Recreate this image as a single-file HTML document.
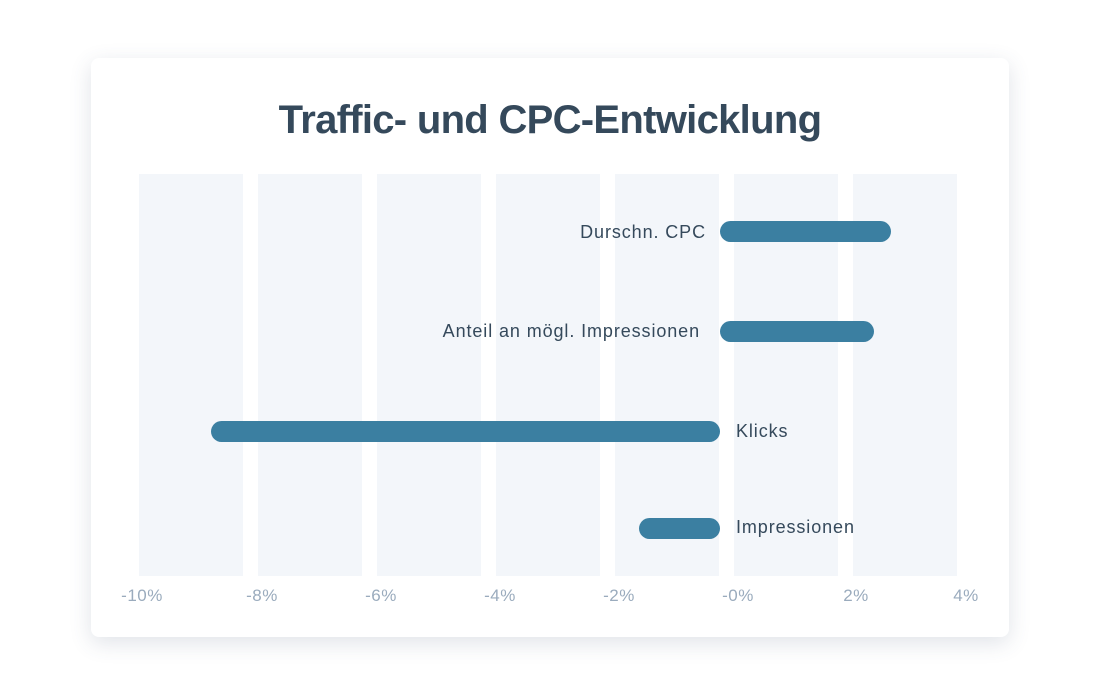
<!DOCTYPE html>
<html><head><meta charset="utf-8"><style>
html,body{margin:0;padding:0;background:#fff;}
body{width:1100px;height:696px;position:relative;overflow:hidden;font-family:"Liberation Sans",sans-serif;}
.card{position:absolute;left:91px;top:58px;width:918px;height:579px;background:#fff;border-radius:8px;box-shadow:0 6px 22px rgba(60,80,110,0.16);}
.title{position:absolute;left:0;width:1100px;top:98px;text-align:center;font-weight:bold;font-size:40px;color:#35495b;letter-spacing:-0.7px;}
.band{position:absolute;top:174px;height:402px;width:104px;background:#f3f6fa;}
.tick{position:absolute;top:586px;font-size:17px;color:#9aabbd;transform:translateX(-50%);letter-spacing:0.5px;}
.bar{position:absolute;height:21px;border-radius:11px;background:#3b7fa1;}
.lab{position:absolute;font-size:18px;color:#35495b;line-height:20px;letter-spacing:0.9px;}
</style></head><body>
<div class="card"></div>
<div class="title">Traffic- und CPC-Entwicklung</div>
<div class="band" style="left:139px"></div>
<div class="band" style="left:258px"></div>
<div class="band" style="left:377px"></div>
<div class="band" style="left:496px"></div>
<div class="band" style="left:615px"></div>
<div class="band" style="left:734px"></div>
<div class="band" style="left:853px"></div>
<div class="tick" style="left:142px">-10%</div>
<div class="tick" style="left:262px">-8%</div>
<div class="tick" style="left:381px">-6%</div>
<div class="tick" style="left:500px">-4%</div>
<div class="tick" style="left:619px">-2%</div>
<div class="tick" style="left:738px">-0%</div>
<div class="tick" style="left:856px">2%</div>
<div class="tick" style="left:966px">4%</div>
<div class="bar" style="left:720px;width:171px;top:221px"></div>
<div class="bar" style="left:720px;width:154px;top:321px"></div>
<div class="bar" style="left:211px;width:509px;top:421px"></div>
<div class="bar" style="left:639px;width:81px;top:518px"></div>
<div class="lab" style="right:394px;top:222px">Durschn. CPC</div>
<div class="lab" style="right:400px;top:321px">Anteil an mögl. Impressionen</div>
<div class="lab" style="left:736px;top:421px">Klicks</div>
<div class="lab" style="left:736px;top:517px">Impressionen</div>
</body></html>
